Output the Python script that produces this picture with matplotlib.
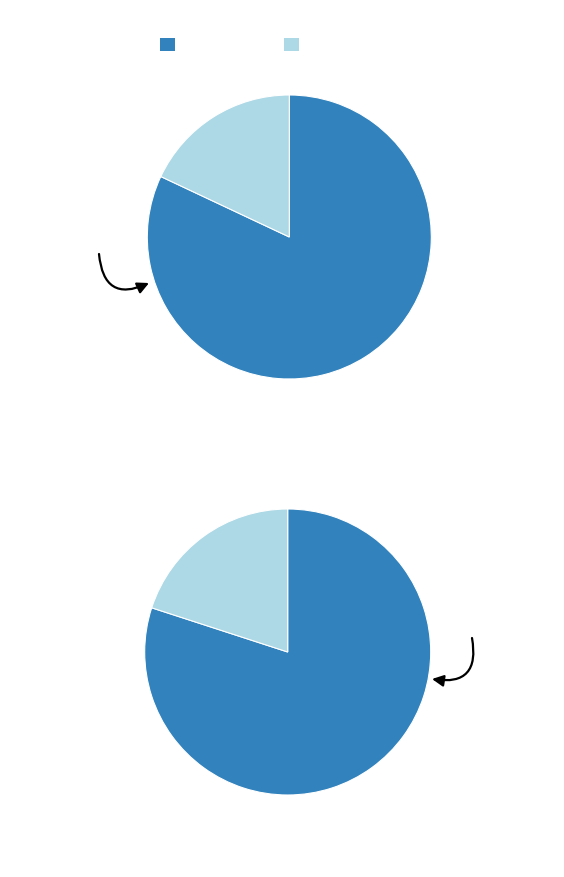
import matplotlib
matplotlib.use("Agg")
import matplotlib.pyplot as plt
from matplotlib.patches import Patch

# data
categories = ["", ""]
top_values = [82, 18]
bottom_values = [80, 20]
colors = ["#3182bd", "#add8e6"]

W, H = 564, 878


def pie_axes(fig, cx, cy, r):
    # cx, cy, r in image pixels (y from top)
    ax = fig.add_axes([(cx - r) / W, 1 - (cy + r) / H, 2 * r / W, 2 * r / H])
    return ax


def draw_pie(ax, values):
    ax.pie(values, colors=colors, startangle=90, counterclock=False,
           wedgeprops=dict(edgecolor="white", linewidth=0.8))
    ax.set_xlim(-1, 1)
    ax.set_ylim(-1, 1)
    ax.axis("off")


def main():
    fig = plt.figure(figsize=(W / 100, H / 100), dpi=100)

    ax1 = pie_axes(fig, 289.3, 238, 142)
    draw_pie(ax1, top_values)
    ax2 = pie_axes(fig, 287.7, 653, 143)
    draw_pie(ax2, bottom_values)

    # curved arrows
    arrow = dict(arrowstyle="-|>", color="black", lw=1.6, mutation_scale=17,
                 shrinkA=0, shrinkB=0)
    fig_ax = fig.add_axes([0, 0, 1, 1], facecolor="none")
    fig_ax.set_xlim(0, W)
    fig_ax.set_ylim(H, 0)
    fig_ax.axis("off")
    fig_ax.annotate("", xy=(149, 284), xytext=(99, 255),
                    arrowprops=dict(arrow, connectionstyle="arc3,rad=0.7"))
    fig_ax.annotate("", xy=(432, 680), xytext=(472, 639),
                    arrowprops=dict(arrow, connectionstyle="arc3,rad=-0.7"))

    handles = [Patch(facecolor=c, edgecolor="none") for c in colors]
    fig.legend(handles, categories, loc="upper left", ncol=2, frameon=False,
               bbox_to_anchor=(160 / W, 1 - 38.5 / H), borderaxespad=0,
               borderpad=0, fontsize=10.8, handlelength=1.0, handleheight=1.0,
               handletextpad=0, columnspacing=7.27)

    fig.savefig("out.png", dpi=100)


if __name__ == "__main__":
    main()
